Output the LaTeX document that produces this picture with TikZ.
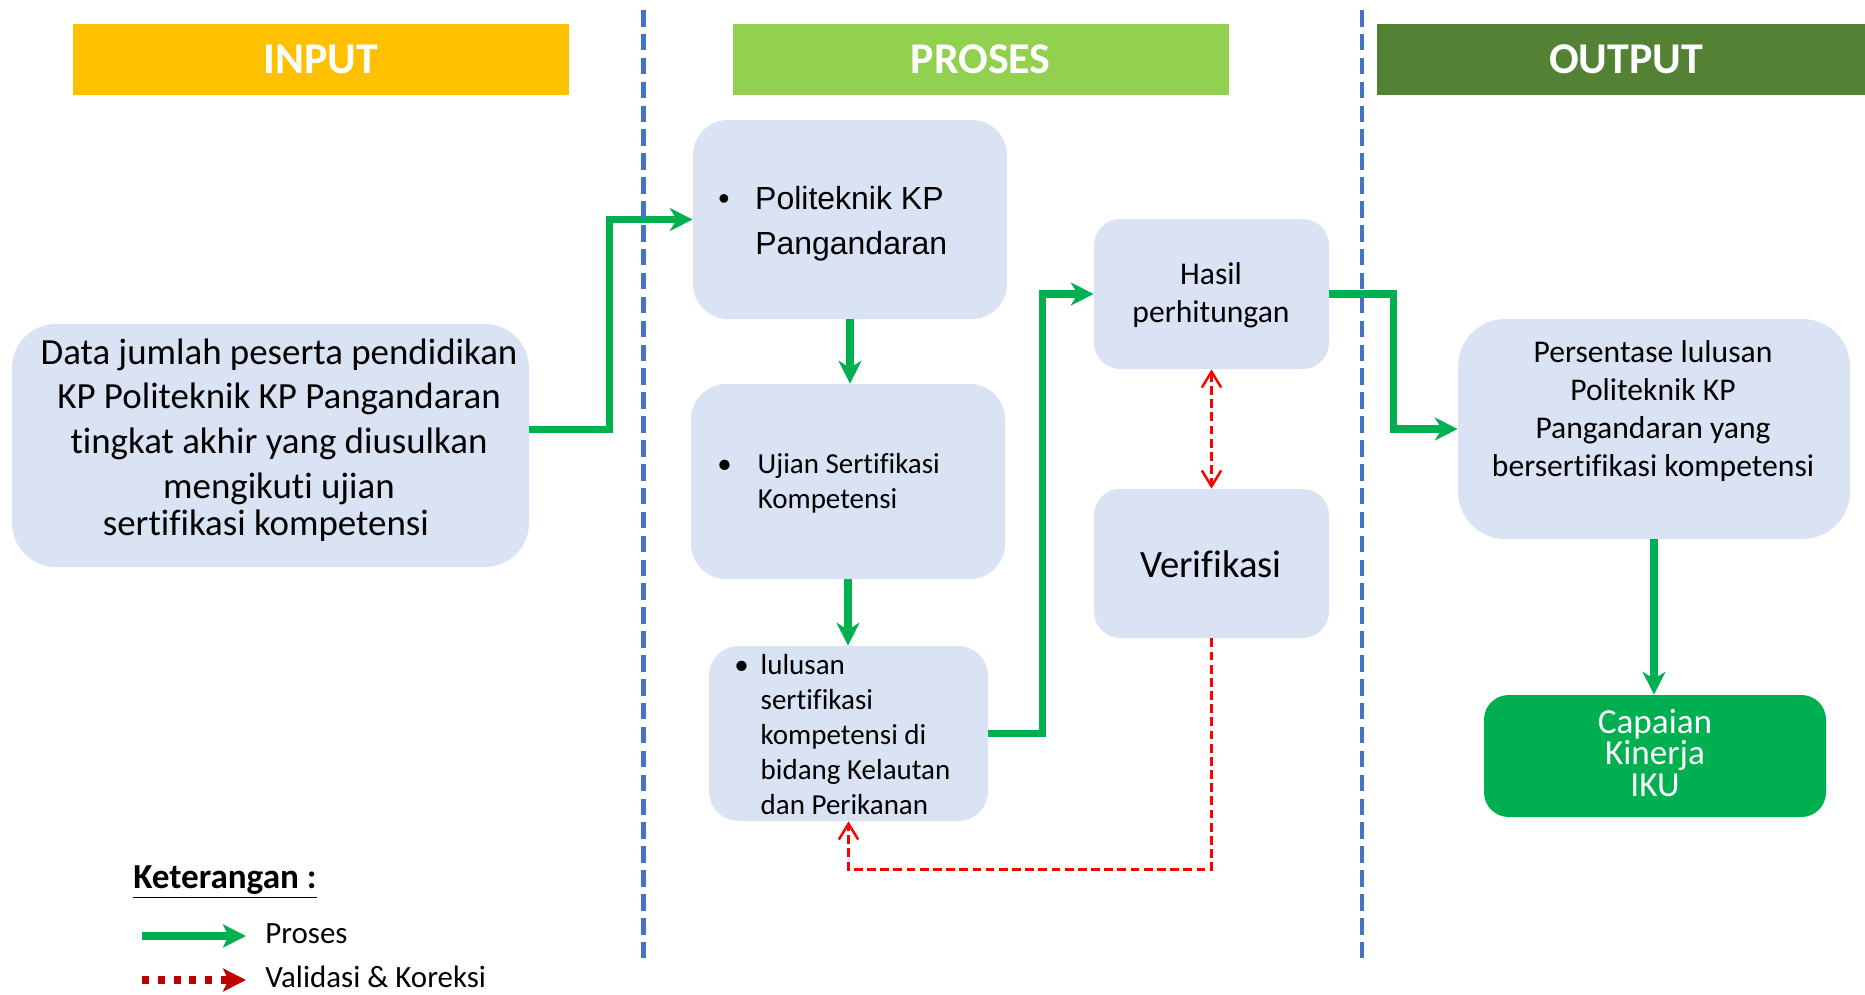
\documentclass[tikz,border=0pt]{standalone}
\usepackage{fontspec}
\setmainfont{Carlito}[Ligatures=NoCommon]
\newfontfamily\arialf{Liberation Sans}
\usetikzlibrary{arrows.meta,calc,fit}
\definecolor{cInput}{HTML}{FFC000}
\definecolor{cProses}{HTML}{92D050}
\definecolor{cOutput}{HTML}{548235}
\definecolor{cSep}{HTML}{4472C4}
\definecolor{cBox}{HTML}{DAE3F3}
\definecolor{cFlow}{HTML}{00B050}
\definecolor{cRed}{HTML}{FF0000}
\definecolor{cDark}{HTML}{C00000}
\begin{document}
\begin{tikzpicture}[x=0.02cm,y=-0.02cm,
  hdr/.style={fill=#1, draw=none, inner sep=0pt},
  box/.style={fill=cBox, draw=none, inner sep=0pt, rounded corners=#1},
  box/.default=14pt,
  txt/.style={inner sep=0pt, text=black},
  flow/.style={draw=cFlow, line width=4.2pt,
    -{Stealth[length=13pt,width=13pt,inset=4pt]}},
  redln/.style={draw=cRed, line width=1.4pt, dash pattern=on 5pt off 2.5pt},
  redtip/.style={-{Straight Barb[length=9pt,width=11pt]}},
  sep/.style={draw=cSep, line width=2.6pt, dash pattern=on 9.4pt off 4.2pt}
]
\useasboundingbox (0,0) rectangle (1865,994);

% headers
\node[hdr=cInput, fit={(72.6,23.8) (568.5,95.2)}] (hin) {};
\node[txt, text=white, font=\bfseries\fontsize{25}{30}\selectfont] (hintxt) at (hin.center) {INPUT};
\node[hdr=cProses, fit={(732.7,23.8) (1228.6,95.2)}] (hpr) {};
\node[txt, text=white, font=\bfseries\fontsize{25}{30}\selectfont] (hprtxt) at (hpr.center) {PROSES};
\node[hdr=cOutput, fit={(1377,23.8) (1865,95.2)}] (hout) {};
\node[txt, text=white, font=\bfseries\fontsize{25}{30}\selectfont] (houttxt) at (1626,59.5) {OUTPUT};

% boxes
\node[box=25pt, fit={(12,324) (529,567)}] (inbox) {};
\node[txt, align=center, font=\fontsize{21}{25.5}\selectfont] (intext) at (279,440)
  {Data jumlah peserta pendidikan\\KP Politeknik KP Pangandaran\\tingkat akhir yang diusulkan\\mengikuti ujian\\[-4.5pt]sertifikasi kompetensi\hspace*{15pt}};

\node[box=20pt, fit={(693,120) (1007,319)}] (polit) {};
\node[txt, anchor=west, align=left, font=\arialf\fontsize{18.2}{25.5}\selectfont] (polittxt) at (718,223.5)
  {\makebox[21pt][l]{•}Politeknik KP\\\hspace*{21pt}Pangandaran};

\node[box=20pt, fit={(691,384) (1005,579)}] (ujian) {};
\node[txt, anchor=west, align=left, font=\fontsize{16.5}{19.8}\selectfont] (ujiantxt) at (717,483.5)
  {\makebox[23pt][l]{•}Ujian Sertifikasi\\\hspace*{23pt}Kompetensi};

\node[box=17pt, fit={(709,646) (988,821)}] (lul) {};
\node[txt, anchor=west, align=left, font=\fontsize{16.5}{20}\selectfont] (lultxt) at (734,734.5)
  {\makebox[15pt][l]{•}lulusan\\\hspace*{15pt}sertifikasi\\\hspace*{15pt}kompetensi di\\\hspace*{15pt}bidang Kelautan\\\hspace*{15pt}dan Perikanan};

\node[box=15pt, fit={(1094,219) (1329,369)}] (hasil) {};
\node[txt, align=center, font=\fontsize{18}{21.5}\selectfont] (hasiltxt) at (1211,295) {Hasil\\perhitungan};

\node[box=15pt, fit={(1094,489) (1329,638)}] (verif) {};
\node[txt, font=\fontsize{22}{26}\selectfont] (veriftxt) at (1211,564) {Verifikasi};

\node[box=27pt, fit={(1458,319) (1850,539)}] (pers) {};
\node[txt, align=center, font=\fontsize{18}{21.5}\selectfont] (perstxt) at (1653,411)
  {Persentase lulusan\\Politeknik KP\\Pangandaran yang\\bersertifikasi kompetensi};

\node[fill=cFlow, inner sep=0pt, rounded corners=14pt, fit={(1484,695) (1826,817)}] (capa) {};
\node[txt, text=white, align=center, font=\fontsize{20}{18}\selectfont] (capatxt) at (1655,753)
  {Capaian\\Kinerja\\IKU};

% flow arrows
\draw[flow] ($(inbox.east)+(0,-16)$) -- ++(80,0) |- (polit.west);
\draw[flow] (polit.south) -- (polit.south |- ujian.north);
\draw[flow] (ujian.south) -- (ujian.south |- lul.north);
\draw[flow] (lul.east) -- ++(54,0) |- (hasil.west);
\draw[flow] (hasil.east) -- ++(64,0) |- (pers.west);
\draw[flow] (pers.south) -- (pers.south |- capa.north);

% red validation
\draw[redln, {Straight Barb[length=9pt,width=11pt]}-{Straight Barb[length=9pt,width=11pt]}] (hasil.south) -- (verif.north);
\draw[redln, redtip] (verif.south) -- ++(0,231) -| (lul.south);

% separators
\coordinate (s1a) at (643.5,10); \coordinate (s1b) at (643.5,959);
\coordinate (s2a) at (1362,10); \coordinate (s2b) at (1362,959);
\draw[sep] (s1a) -- (s1b);
\draw[sep] (s2a) -- (s2b);

% legend
\node[txt, anchor=west, font=\bfseries\fontsize{20}{24}\selectfont] (leg) at (133,882) {\underline{Keterangan :}};
\coordinate (lg1) at (142,936); \coordinate (lg2) at (246,936);
\draw[draw=cFlow, line width=5pt, -{Stealth[length=13pt,width=13pt,inset=3pt]}] (lg1) -- (lg2);
\node[txt, anchor=west, font=\fontsize{17.6}{21}\selectfont] (lgt1) at (265,934) {Proses};
\coordinate (lr1) at (142,980); \coordinate (lr2) at (246,980);
\draw[draw=cDark, line width=5pt, dash pattern=on 4pt off 5pt, -{Stealth[length=13pt,width=13pt,inset=3pt]}] (lr1) -- (lr2);
\node[txt, anchor=west, font=\fontsize{17.6}{21}\selectfont] (lgt2) at (265,977) {Validasi \& Koreksi};
\end{tikzpicture}
\end{document}
